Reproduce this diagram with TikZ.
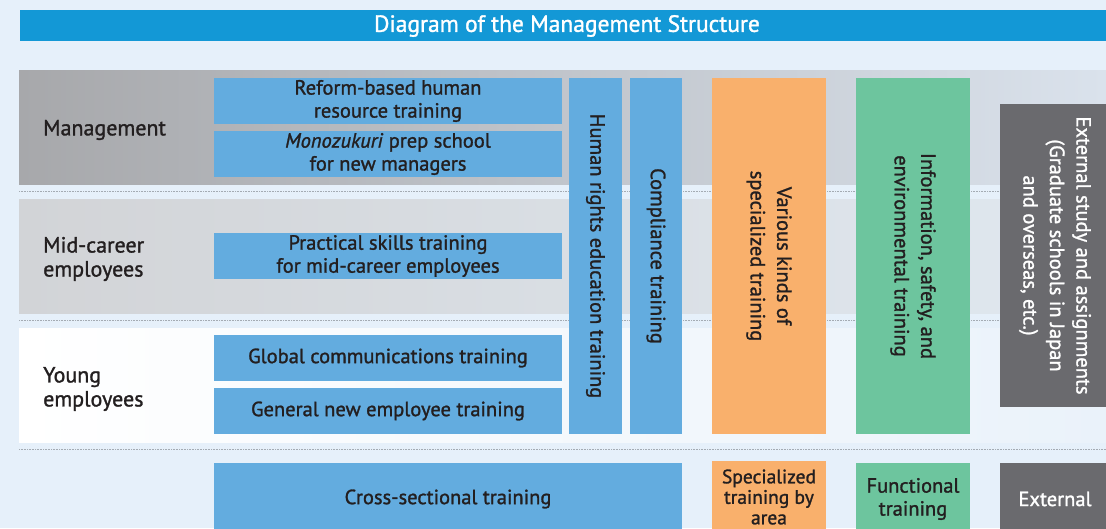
\documentclass[tikz,border=0pt]{standalone}
\usepackage{fontspec}
\setmainfont{PT Sans}[FakeBold=1.3]

\definecolor{pagebg}{HTML}{E6F0FA}
\definecolor{titleblue}{HTML}{1398D6}
\definecolor{trainblue}{HTML}{63ACDF}
\definecolor{trainorange}{HTML}{F9B06C}
\definecolor{traingreen}{HTML}{6DC59E}
\definecolor{extgray}{HTML}{6A6A6E}
\definecolor{inkdark}{HTML}{231F20}
\definecolor{dotgray}{HTML}{A4ABB3}

\tikzset{
  cell/.style={rectangle, inner sep=0pt, align=center, text=inkdark,
    font=\fontsize{20.5}{23}\selectfont},
  upright/.style={cell, rotate=-90, font=\fontsize{20.5}{26.5}\selectfont},
  bluebox/.style={cell, fill=trainblue},
  orangebox/.style={cell, fill=trainorange},
  greenbox/.style={cell, fill=traingreen},
  graybox/.style={cell, fill=extgray, text=white},
  levellabel/.style={anchor=west, align=left, text=inkdark, inner sep=0pt,
    font=\fontsize{22}{24}\selectfont},
  sepline/.style={dotgray, densely dotted, line width=0.6pt},
}

\begin{document}
\begin{tikzpicture}[x=1pt,y=-1pt]

\fill[pagebg] (0,0) rectangle (1106,528);
\useasboundingbox (0,0) rectangle (1106,528);
\clip (0,0) rectangle (1106,528);

% title bar
\fill[titleblue] (20,10) rectangle (1106,41);
\node[text=white, inner sep=0pt, font=\fontsize{23.5}{26}\selectfont] (title) at (567,26) {Diagram of the Management Structure};

% level bands
\shade[left color={rgb,255:red,167;green,168;blue,171}, right color={rgb,255:red,218;green,226;blue,236}] (19,70) rectangle (1106,184);
\shade[left color={rgb,255:red,210;green,212;blue,215}, right color={rgb,255:red,224;green,232;blue,240}] (19,199) rectangle (1106,313);
\shade[left color=white, right color={rgb,255:red,234;green,242;blue,250}] (19,328) rectangle (1106,442);

\draw[sepline] (19,191) -- (1106,191);
\draw[sepline] (19,320) -- (1106,320);
\draw[sepline] (19,449) -- (1106,449);

% level names
\node[levellabel] (management) at (43,130) {Management};
\node[levellabel] (midcareer) at (43,259) {Mid-career\\employees};
\node[levellabel] (young) at (43,389) {Young\\employees};

% training by level
\node[bluebox, minimum width=348pt, minimum height=46pt] (reform) at (388,101) {Reform-based human\\resource training};
\node[bluebox, minimum width=348pt, minimum height=46pt] (monozukuri) at (388,154) {\textit{Monozukuri} prep school\\for new managers};
\node[bluebox, minimum width=348pt, minimum height=46pt] (practical) at (388,256) {Practical skills training\\for mid-career employees};
\node[bluebox, minimum width=348pt, minimum height=46pt] (global) at (388,358) {Global communications training};
\node[bluebox, minimum width=348pt, minimum height=46pt] (newemp) at (388,411) {General new employee training};

% training for all levels
\node[bluebox, minimum width=53pt, minimum height=356pt] (humanrights) at (595.5,256) {};
\node[upright] (humanrightstext) at (humanrights.center) {Human rights education training};
\node[bluebox, minimum width=52pt, minimum height=356pt] (compliance) at (656,256) {};
\node[upright] (compliancetext) at (compliance.center) {Compliance training};
\node[orangebox, minimum width=114pt, minimum height=356pt] (various) at (769,256) {};
\node[upright] (varioustext) at (various.center) {Various kinds of\\specialized training};
\node[greenbox, minimum width=114pt, minimum height=356pt] (info) at (913,256) {};
\node[upright] (infotext) at (info.center) {Information, safety, and\\environmental training};
\node[graybox, minimum width=110pt, minimum height=303pt] (extstudy) at (1055,255.5) {};
\node[upright, text=white] (extstudytext) at (extstudy.center) {External study and assignments\\(Graduate schools in Japan\\and overseas, etc.)};

% categories
\node[bluebox, minimum width=468pt, minimum height=72pt] (cross) at (448,499) {Cross-sectional training};
\node[orangebox, minimum width=114pt, minimum height=72pt, font=\fontsize{19.5}{20.5}\selectfont] (special) at (769,497) {Specialized\\training by\\area};
\node[greenbox, minimum width=114pt, minimum height=72pt] (functional) at (913,499) {Functional\\training};
\node[graybox, minimum width=110pt, minimum height=72pt] (external) at (1055,499) {External};

\end{tikzpicture}
\end{document}
